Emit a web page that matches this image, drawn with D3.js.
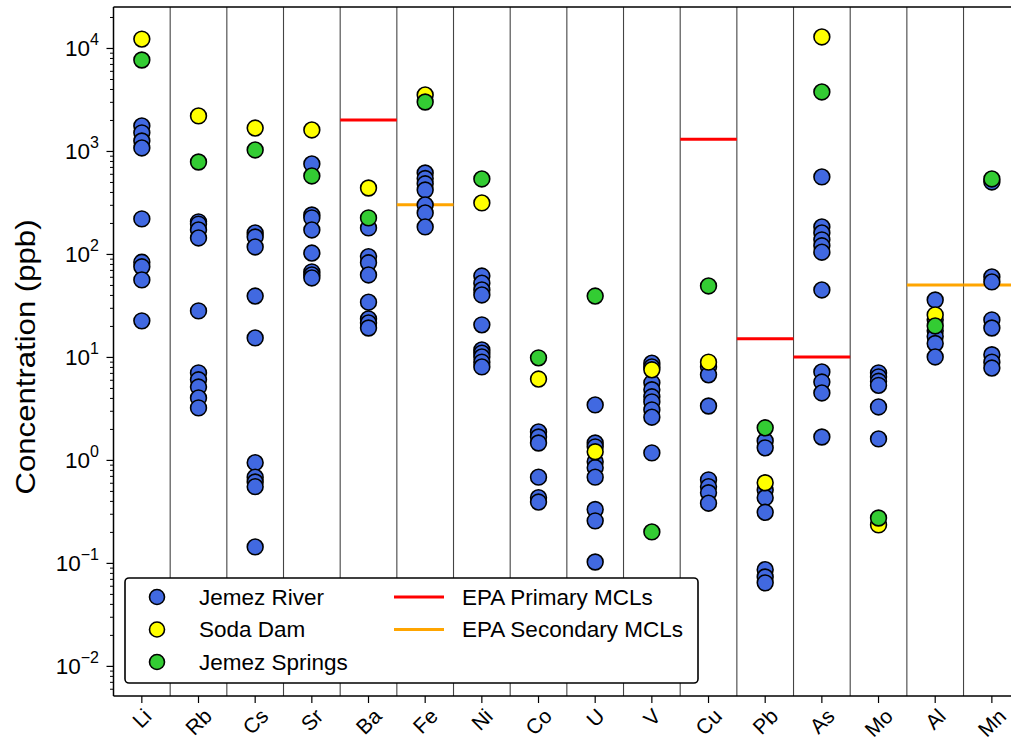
<!DOCTYPE html>
<html>
<head>
<meta charset="utf-8">
<script src="https://cdn.jsdelivr.net/npm/d3@7"></script>
<style>
  html, body { margin: 0; padding: 0; background: #fff; }
  svg { display: block; font-family: "Liberation Sans", Arial, Helvetica, sans-serif; }
</style>
</head>
<body>
<svg id="chart" width="1011" height="744"></svg>
<script>
// Elements along the x axis
const categories = ["Li", "Rb", "Cs", "Sr", "Ba", "Fe", "Ni", "Co", "U", "V", "Cu", "Pb", "As", "Mo", "Al", "Mn"];

// Jemez River samples (ppb), one list per element
const jemezRiver = [
  [1750, 1500, 1250, 1070, 219, 83, 75, 56, 22.4],
  [205, 195, 171, 143, 28, 7.0, 6.0, 5.1, 4.0, 3.2],
  [160, 146, 117, 39, 15.3, 0.94, 0.68, 0.61, 0.55, 0.143],
  [748, 239, 224, 171, 102, 67, 62.5, 58.5],
  [179, 94, 82, 62.5, 34, 23.4, 21.4, 19.1],
  [611, 540, 480, 418, 299, 250, 183],
  [61, 52, 44.7, 40, 20.5, 11.7, 10.9, 10, 8.9, 8.0],
  [1.87, 1.67, 1.46, 0.68, 0.43, 0.39],
  [3.42, 1.46, 1.34, 0.96, 0.84, 0.68, 0.33, 0.256, 0.102],
  [8.7, 8.0, 5.6, 4.8, 4.1, 3.66, 3.06, 2.6, 1.17],
  [8.0, 6.7, 3.34, 0.64, 0.55, 0.48, 0.38],
  [1.53, 1.31, 0.51, 0.43, 0.31, 0.086, 0.073, 0.064],
  [560, 183, 160, 137, 120, 104, 44.7, 7.15, 5.7, 4.47, 1.67],
  [7.0, 6.4, 5.8, 5.3, 3.27, 1.6],
  [35.7, 23, 18, 15.8, 13.5, 10],
  [500, 59.8, 53.5, 22.9, 19.1, 10.5, 8.9, 7.8]
];

// Soda Dam (ppb), null where not sampled
const sodaDam = [12200, 2190, 1670, 1600, 437, 3500, 313, 6.1, 1.2, 7.5, 8.9, 0.6, 12800, 0.234, 25.6, null];

// Jemez Springs (ppb)
const jemezSprings = [7640, 781, 1023, 572, 224, 2990, 535, 9.8, 39, 0.2, 48.9, 2.05, 3740, 0.273, 20, 535];

// EPA maximum contaminant levels (ppb)
const primaryMCL = [["Ba", 2000], ["Cu", 1300], ["Pb", 15], ["As", 10]];
const secondaryMCL = [["Fe", 300], ["Al", 50], ["Mn", 50]];

// Y-axis decade labels
const decadeExponents = [-2, -1, 0, 1, 2, 3, 4];

const seriesColors = { river: "#4169e1", soda: "#ffff00", springs: "#33cc33" };
const mclColors = { primary: "#ff0000", secondary: "#ffa500" };

const svg = d3.select("#chart");
const margin = { left: 113.5, top: 7, right: 1020.2, bottom: 696 };

const x = d3.scaleBand().domain(categories).range([margin.left, margin.right]).padding(0);
const y = d3.scaleLog().domain([5.1e-3, 2.5e4]).range([margin.bottom, margin.top]);

const plot = svg.append("g");

// Column separators
plot.selectAll("line.sep")
  .data(categories.slice(1))
  .join("line")
  .attr("class", "sep")
  .attr("x1", d => x(d)).attr("x2", d => x(d))
  .attr("y1", margin.top).attr("y2", margin.bottom)
  .attr("stroke", "#444").attr("stroke-width", 1.1);

// MCL lines spanning the element's column
function drawMCL(list, color) {
  plot.selectAll(null)
    .data(list)
    .join("line")
    .attr("x1", d => x(d[0])).attr("x2", d => x(d[0]) + x.bandwidth())
    .attr("y1", d => y(d[1])).attr("y2", d => y(d[1]))
    .attr("stroke", color).attr("stroke-width", 3);
}
drawMCL(primaryMCL, mclColors.primary);
drawMCL(secondaryMCL, mclColors.secondary);

// Sample points
const r = 7.9;
function drawPoints(points, color) {
  plot.selectAll(null)
    .data(points)
    .join("circle")
    .attr("cx", d => x(d.cat) + x.bandwidth() / 2)
    .attr("cy", d => y(d.v))
    .attr("r", r)
    .attr("fill", color)
    .attr("stroke", "#000")
    .attr("stroke-width", 1.6);
}
const riverPts = [];
jemezRiver.forEach((vals, i) => vals.forEach(v => riverPts.push({ cat: categories[i], v })));
const sodaPts = sodaDam.map((v, i) => ({ cat: categories[i], v })).filter(d => d.v != null);
const springPts = jemezSprings.map((v, i) => ({ cat: categories[i], v })).filter(d => d.v != null);
drawPoints(riverPts, seriesColors.river);
drawPoints(sodaPts, seriesColors.soda);
drawPoints(springPts, seriesColors.springs);

// Spines
const spine = svg.append("g").attr("stroke", "#000").attr("stroke-width", 1.5).attr("fill", "none");
spine.append("line").attr("x1", margin.left).attr("x2", margin.right).attr("y1", margin.top).attr("y2", margin.top);
spine.append("line").attr("x1", margin.left).attr("x2", margin.right).attr("y1", margin.bottom).attr("y2", margin.bottom);
spine.append("line").attr("x1", margin.left).attr("x2", margin.left).attr("y1", margin.top).attr("y2", margin.bottom);

// Y axis ticks: majors at decades, minors at 2..9
const yAxis = svg.append("g").attr("transform", `translate(${margin.left},0)`);
const majorVals = decadeExponents.map(e => Math.pow(10, e));
const minorVals = [];
for (let e = -3; e <= 4; e++) {
  for (let m = 2; m <= 9; m++) {
    const v = m * Math.pow(10, e);
    if (v >= y.domain()[0] && v <= y.domain()[1]) minorVals.push(v);
  }
}
yAxis.call(d3.axisLeft(y).tickValues(minorVals).tickSize(3.5).tickFormat(""))
  .call(g => g.select(".domain").remove())
  .call(g => g.selectAll("line").attr("stroke-width", 1));
yAxis.append("g").call(d3.axisLeft(y).tickValues(majorVals).tickSize(7).tickFormat(""))
  .call(g => g.select(".domain").remove())
  .call(g => g.selectAll("line").attr("stroke-width", 1.2));

// Decade labels as 10 with superscript exponent
const labels = svg.append("g");
decadeExponents.forEach(e => {
  const t = labels.append("text")
    .attr("x", 99)
    .attr("y", y(Math.pow(10, e)) + 8.5)
    .attr("text-anchor", "end")
    .attr("font-size", 22.5)
    .attr("fill", "#000");
  t.append("tspan").text("10");
  t.append("tspan").attr("dy", -11).attr("font-size", 16).text(e < 0 ? "\u2212" + Math.abs(e) : String(e));
});

// X axis ticks and rotated labels
const xAxis = svg.append("g").attr("transform", `translate(0,${margin.bottom})`);
xAxis.call(d3.axisBottom(x).tickSize(7).tickFormat(""))
  .call(g => g.select(".domain").remove())
  .call(g => g.selectAll("line").attr("stroke-width", 1.2));

const xl = svg.append("g");
categories.forEach(c => {
  const cx = x(c) + x.bandwidth() / 2;
  const t = xl.append("text")
    .attr("text-anchor", "middle")
    .attr("dominant-baseline", "central")
    .attr("font-size", 21)
    .text(c);
  const len = t.node().getComputedTextLength();
  const half = (len + 15) / (2 * Math.SQRT2);
  const cy = 707 + half;
  t.attr("transform", `translate(${cx},${cy}) rotate(-45)`);
});

// Y axis title
svg.append("text")
  .attr("transform", "translate(35,357) rotate(-90)")
  .attr("text-anchor", "middle")
  .attr("font-size", 28)
  .attr("textLength", 275)
  .attr("lengthAdjust", "spacingAndGlyphs")
  .text("Concentration (ppb)");

// Legend
const lg = svg.append("g");
lg.append("rect")
  .attr("x", 125).attr("y", 578).attr("width", 573).attr("height", 105)
  .attr("rx", 4).attr("fill", "#fff").attr("stroke", "#000").attr("stroke-width", 1.6);

const legendPoints = [
  ["Jemez River", seriesColors.river],
  ["Soda Dam", seriesColors.soda],
  ["Jemez Springs", seriesColors.springs]
];
const rowY = [597, 629.5, 662];
legendPoints.forEach((d, i) => {
  lg.append("circle").attr("cx", 157).attr("cy", rowY[i]).attr("r", 7.5)
    .attr("fill", d[1]).attr("stroke", "#000").attr("stroke-width", 1.6);
  lg.append("text").attr("x", 199).attr("y", rowY[i]).attr("dominant-baseline", "central")
    .attr("font-size", 22.5).text(d[0]);
});
const legendLines = [
  ["EPA Primary MCLs", mclColors.primary],
  ["EPA Secondary MCLs", mclColors.secondary]
];
legendLines.forEach((d, i) => {
  lg.append("line").attr("x1", 394).attr("x2", 444).attr("y1", rowY[i]).attr("y2", rowY[i])
    .attr("stroke", d[1]).attr("stroke-width", 3);
  lg.append("text").attr("x", 462).attr("y", rowY[i]).attr("dominant-baseline", "central")
    .attr("font-size", 22.5).text(d[0]);
});
</script>
</body>
</html>
